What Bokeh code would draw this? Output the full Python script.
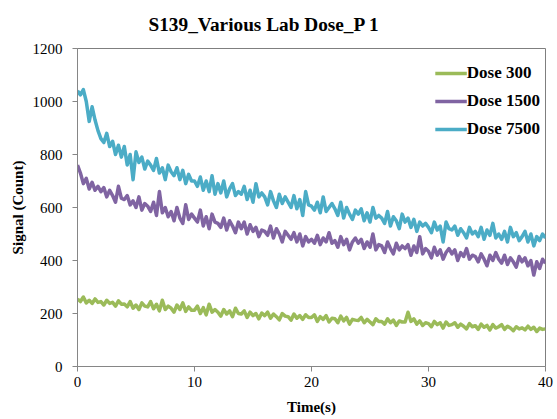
from bokeh.plotting import figure
from bokeh.models import Range1d, FixedTicker, Legend, LegendItem
from bokeh.embed import file_html
from bokeh.resources import INLINE
import numpy as np

time_step = 0.25
dose_300 = [
    255, 245, 262, 240, 250, 238, 255, 242,
    245, 232, 250, 238, 242, 228, 248, 235,
    236, 225, 245, 220, 232, 215, 240, 228,
    225, 245, 218, 235, 210, 250, 215, 228,
    220, 205, 232, 215, 240, 208, 225, 212,
    212, 228, 200, 222, 195, 235, 205, 215,
    205, 190, 215, 198, 210, 188, 220, 200,
    198, 210, 185, 205, 192, 200, 180, 202,
    192, 205, 182, 198, 188, 176, 200, 190,
    188, 175, 198, 182, 192, 178, 195, 185,
    185, 195, 170, 188, 178, 192, 168, 182,
    180, 165, 190, 172, 185, 160, 178, 175,
    174, 185, 165, 178, 168, 158, 180, 170,
    170, 160, 180, 165, 175, 155, 172, 168,
    168, 205, 170, 180, 160, 172, 155, 165,
    162, 150, 170, 158, 165, 145, 168, 155,
    158, 165, 148, 160, 152, 142, 162, 150,
    154, 140, 160, 148, 155, 138, 158, 145,
    150, 158, 140, 152, 145, 135, 150, 142,
    146, 138, 152, 140, 148, 132, 145, 140,
    142,
]
dose_1500 = [
    760, 730, 690, 710, 670, 695, 665, 680,
    660, 675, 640, 665, 645, 620, 680, 635,
    630, 645, 610, 625, 600, 640, 590, 615,
    605, 585, 620, 570, 660, 580, 600, 565,
    585, 550, 600, 560, 540, 610, 555, 575,
    560, 545, 590, 530, 565, 520, 575, 545,
    540, 525, 560, 515, 550, 530, 505, 545,
    520, 545, 500, 535, 510, 525, 490, 515,
    510, 495, 530, 485, 520, 500, 470, 510,
    495, 480, 505, 470, 500, 455, 490, 470,
    480, 465, 495, 460, 485, 470, 505, 465,
    475, 450, 490, 460, 480, 440, 470, 485,
    465, 480, 445, 470, 450, 500, 440, 460,
    455, 430, 470, 445, 425, 465, 440, 455,
    445, 460, 420, 455, 430, 490, 425, 445,
    435, 410, 450, 420, 440, 405, 430, 445,
    425, 440, 400, 430, 415, 445, 405, 420,
    415, 395, 425, 405, 380, 420, 400, 430,
    405, 390, 420, 385, 410, 395, 375, 415,
    395, 410, 380, 400, 345, 395, 370, 405,
    390,
]
dose_7500 = [
    1040, 1025, 1045, 1000, 925, 980, 930, 890,
    860, 845, 880, 830, 850, 800, 835, 790,
    830, 760, 800, 705, 810, 770, 790, 745,
    775, 760, 740, 785, 730, 750, 705, 760,
    735, 720, 750, 705, 740, 690, 725, 700,
    700, 680, 715, 665, 700, 660, 720, 650,
    690, 655, 700, 640, 670, 690, 645, 660,
    650, 680, 630, 665, 620, 690, 640, 655,
    640, 610, 660, 625, 600, 650, 615, 640,
    620, 600, 645, 595, 630, 570, 660, 610,
    605, 590, 620, 580, 640, 585, 600, 615,
    595, 570, 620, 560, 600, 575, 555, 590,
    575, 595, 550, 580, 545, 600, 560, 570,
    560, 540, 585, 530, 565, 550, 520, 575,
    545, 560, 525, 555, 510, 545, 530, 540,
    525, 505, 545, 515, 530, 470, 545, 520,
    515, 530, 495, 520, 505, 485, 525, 500,
    510, 490, 525, 480, 515, 495, 540, 485,
    500, 480, 510, 470, 525, 490, 505, 475,
    490, 510, 470, 500, 455, 490, 475, 500,
    485,
]
series_names = ["Dose 300", "Dose 1500", "Dose 7500"]
series_colors = ["#9BBB59", "#8064A2", "#4BACC6"]
x_ticks = [0, 10, 20, 30, 40]
y_ticks = [0, 200, 400, 600, 800, 1000, 1200]

t = np.arange(len(dose_300)) * time_step

serif = "Liberation Serif"
p = figure(width=557, height=419, output_backend="svg", toolbar_location=None,
           x_range=Range1d(0, 40), y_range=Range1d(0, 1200),
           min_border_left=77, min_border_right=12, min_border_top=48, min_border_bottom=53,
           title="S139_Various Lab Dose_P 1")
p.title.text_font = serif
p.title.text_font_size = "19.3px"
p.title.text_font_style = "bold"
p.title.align = "left"
p.title.offset = 71
p.title.standoff = 23
p.title.vertical_align = "top"
p.title.text_color = "#000000"

p.xgrid.grid_line_color = None
p.ygrid.grid_line_color = None
p.outline_line_color = "#7f7f7f"
p.outline_line_width = 1

for ax, ticks in ((p.xaxis, x_ticks), (p.yaxis, y_ticks)):
    ax.ticker = FixedTicker(ticks=ticks)
    ax.axis_line_color = "#868686"
    ax.major_tick_line_color = "#868686"
    ax.major_tick_out = 5
    ax.major_tick_in = 0
    ax.minor_tick_line_color = None
    ax.major_label_text_font = serif
    ax.major_label_text_font_size = "15px"
    ax.major_label_text_color = "#000000"
    ax.axis_label_text_font = serif
    ax.axis_label_text_font_size = "15px"
    ax.axis_label_text_font_style = "bold"
    ax.axis_label_text_color = "#000000"

p.xaxis.axis_label = "Time(s)"
p.yaxis.axis_label = "Signal (Count)"
p.xaxis.major_label_standoff = 5
p.xaxis.axis_label_standoff = 9
p.yaxis.major_label_standoff = 10
p.yaxis.axis_label_standoff = 4

items = []
for name, vals, col in zip(series_names, [dose_300, dose_1500, dose_7500], series_colors):
    r = p.line(t, vals, line_color=col, line_width=3.5, line_join="round")
    items.append(LegendItem(label=name, renderers=[r]))

legend = Legend(items=items, location="top_right")
legend.border_line_color = None
legend.background_fill_alpha = 0
legend.title = " "
legend.title_text_font_size = "1px"
legend.title_standoff = 7
legend.label_text_font = serif
legend.label_text_font_size = "17px"
legend.label_text_font_style = "bold"
legend.label_text_color = "#000000"
legend.glyph_width = 32
legend.glyph_height = 24
legend.spacing = 4
legend.label_standoff = 0
legend.margin = 5
legend.padding = 10
p.add_layout(legend)

open("out.html", "w").write(file_html(p, INLINE))
